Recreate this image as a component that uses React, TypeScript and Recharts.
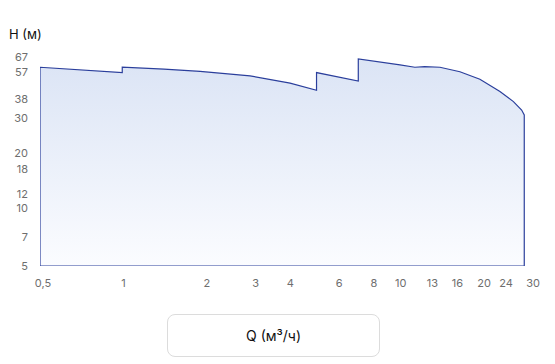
import { ComposedChart, Area, XAxis, YAxis } from "recharts";

// pump envelope (Q in m3/h, H in m)
const flowQ = [0.5, 0.5, 0.99, 0.99, 1.4, 1.89, 2.86, 3.99, 4.97, 4.97, 7.03, 7.03, 9.94, 11.25, 12.2, 13.85, 16.35, 19.3, 22.8, 25.5, 27.3, 27.9, 27.9, 0.5];
const headH = [5, 59, 55.2, 59, 57.7, 56, 53, 48.4, 44.3, 55.2, 49.7, 65.4, 60.7, 59, 59.4, 59, 55.8, 50.8, 43.6, 38.5, 34.7, 32.6, 5, 5];

const xTicks = [0.5, 1, 2, 3, 4, 6, 8, 10, 13, 16, 20, 24, 30];
const yTicks = [5, 7, 10, 12, 18, 20, 30, 38, 57, 67];

// labels in the original are spread a little so they don't collide
const yNudge: Record<number, number> = { 57: 2, 38: -4, 30: -4, 20: -1, 18: 6, 12: -1, 10: -2, 7: -2 };

const data = flowQ.map((q, i) => ({ q, h: headH[i] }));

const FONT = "Inter, sans-serif";
const fmt = (v: number) => String(v).replace(".", ",");

function YTick(props: any) {
  const { x, y, payload } = props;
  const dy = yNudge[payload.value] ?? 0;
  return (
    <text x={x} y={y + dy} dy="0.355em" textAnchor="end" fontSize={11} fill="#6e6e6e" fontFamily={FONT}>
      {payload.value}
    </text>
  );
}

function XTick(props: any) {
  const { x, y, payload } = props;
  const dx = payload.value === 0.5 ? 3 : 0;
  return (
    <text x={x + dx} y={y} dy="0.71em" textAnchor="middle" fontSize={11} fill="#6e6e6e" fontFamily={FONT}>
      {fmt(payload.value)}
    </text>
  );
}

export default function App() {
  return (
    <div style={{ position: "absolute", left: 0, top: 0, width: 555, height: 364, fontFamily: FONT }}>
      <div style={{ position: "absolute", left: 9, top: 26, fontSize: 13, color: "#111" }}>H (м)</div>
      <ComposedChart width={555} height={364} data={data} margin={{ top: 57, right: 22, bottom: 68, left: 0 }}>
        <defs>
          <linearGradient id="envFill" x1="0" y1="0" x2="0" y2="1">
            <stop offset="0%" stopColor="#dbe4f5" />
            <stop offset="100%" stopColor="#fbfcff" />
          </linearGradient>
        </defs>
        <XAxis
          dataKey="q"
          type="number"
          scale="log"
          domain={[0.5, 30]}
          ticks={xTicks}
          axisLine={false}
          tickLine={false}
          tickSize={0}
          tickMargin={13}
          tick={<XTick />}
          height={30}
          allowDataOverflow
          interval={0}
        />
        <YAxis
          type="number"
          scale="log"
          domain={[5, 67]}
          ticks={yTicks}
          axisLine={false}
          tickLine={false}
          tickSize={0}
          tickMargin={12}
          tick={<YTick />}
          width={40}
          allowDataOverflow
          interval={0}
        />
        <Area
          dataKey="h"
          type="linear"
          stroke="#2b3f9c"
          strokeWidth={1.2}
          fill="url(#envFill)"
          fillOpacity={1}
          isAnimationActive={false}
          dot={false}
          activeDot={false}
        />
      </ComposedChart>
      <div
        style={{
          position: "absolute",
          left: 167,
          top: 314,
          width: 213,
          height: 43,
          boxSizing: "border-box",
          border: "1px solid #dcdcdc",
          borderRadius: 8,
          display: "flex",
          alignItems: "center",
          justifyContent: "center",
          fontSize: 14,
          color: "#111",
        }}
      >
        Q (м³/ч)
      </div>
    </div>
  );
}
